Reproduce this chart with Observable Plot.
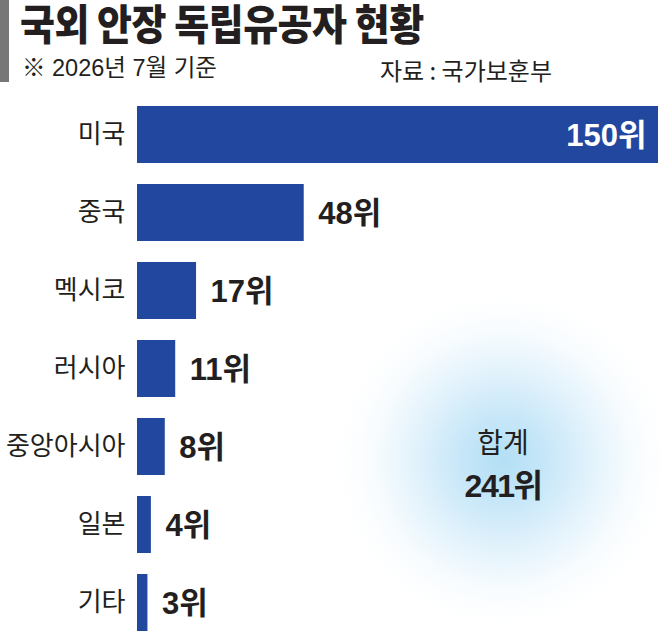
<!DOCTYPE html>
<html><head><meta charset="utf-8">
<script src="https://cdn.jsdelivr.net/npm/d3@7"></script>
<script src="https://cdn.jsdelivr.net/npm/@observablehq/plot@0.6"></script>
<style>
body{margin:0;background:#fff;}
#wrap{position:relative;width:661px;height:633px;overflow:hidden;background:#fff;font-family:"Noto Sans CJK KR",sans-serif;color:#231f20;}
#bar{position:absolute;left:0;top:0;width:9px;height:82px;background:#777;}
#title{position:absolute;left:20px;top:1px;font-size:38px;font-weight:900;line-height:1;letter-spacing:-0.5px;white-space:nowrap;transform:scaleY(1.1);transform-origin:left top;}
#sub{position:absolute;left:22px;top:57px;font-size:23.5px;line-height:1;font-family:"Liberation Sans","Noto Sans CJK KR",sans-serif;letter-spacing:0px;white-space:nowrap;}
#src{position:absolute;left:380px;top:58px;font-size:24px;line-height:1;white-space:nowrap;}
#glow{position:absolute;left:338px;top:295px;width:330px;height:330px;border-radius:50%;background:radial-gradient(circle closest-side,#b3dff5 0%,rgba(188,226,247,0.85) 25%,rgba(205,233,249,0.55) 55%,rgba(230,244,252,0.25) 80%,rgba(255,255,255,0) 100%);}
#chart{position:absolute;left:0;top:93px;}
#total{position:absolute;left:403px;top:427px;width:200px;text-align:center;line-height:1;}
#total .t1{font-size:28px;}
#total .t2{font-size:32px;font-weight:700;font-family:"Liberation Sans","Noto Sans CJK KR",sans-serif;margin-top:15px;letter-spacing:-1.5px;}
</style>
</head><body>
<div id="wrap">
  <div id="glow"></div>
  <div id="bar"></div>
  <div id="title"></div>
  <div id="sub"></div>
  <div id="src"></div>
  <div id="chart"></div>
  <div id="total"><div class="t1"></div><div class="t2"></div></div>
</div>
<script>
const titleText = "국외 안장 독립유공자 현황";
const subtitleText = "※ 2026년 7월 기준";
const sourceText = "자료 : 국가보훈부";
const categories = ["미국", "중국", "멕시코", "러시아", "중앙아시아", "일본", "기타"];
const values = [150, 48, 17, 11, 8, 4, 3];
const unit = "위";
const totalLabel = "합계";

document.getElementById("title").textContent = titleText;
document.getElementById("sub").textContent = subtitleText;
document.getElementById("src").textContent = sourceText;

const data = categories.map((c, i) => ({category: c, value: values[i]}));
const total = d3.sum(values);
document.querySelector("#total .t1").textContent = totalLabel;
document.querySelector("#total .t2").textContent = total + unit;

const valueFont = '"Liberation Sans","Noto Sans CJK KR",sans-serif';
const maxV = d3.max(values);

const chart = Plot.plot({
  width: 661,
  height: 540,
  marginLeft: 137,
  marginRight: 3,
  marginTop: 0,
  marginBottom: 0,
  x: {domain: [0, maxV], range: [137, 658], axis: null},
  y: {domain: categories, range: [0, 550], paddingInner: 0.275, paddingOuter: 0.1375, label: null, tickSize: 0, tickPadding: 12},
  style: {background: "transparent", fontFamily: '"Noto Sans CJK KR",sans-serif', fontSize: "26px", color: "#231f20", overflow: "visible"},
  marks: [
    Plot.axisY({tickSize: 0, tickPadding: 12, fontSize: 26, label: null}),
    Plot.barX(data, {x: "value", y: "category", fill: "#22479e"}),
    Plot.text(data.filter(d => d.value === maxV), {
      x: "value", y: "category", text: d => d.value + unit,
      textAnchor: "end", dx: -12, dy: 1, fill: "white",
      fontSize: 31, fontWeight: 700, fontFamily: valueFont, letterSpacing: -1.5
    }),
    Plot.text(data.filter(d => d.value !== maxV), {
      x: "value", y: "category", text: d => d.value + unit,
      textAnchor: "start", dx: 14, dy: 1, fill: "#231f20",
      fontSize: 31, fontWeight: 700, fontFamily: valueFont, letterSpacing: -1.5
    })
  ]
});
document.getElementById("chart").appendChild(chart);
</script>
</body></html>
